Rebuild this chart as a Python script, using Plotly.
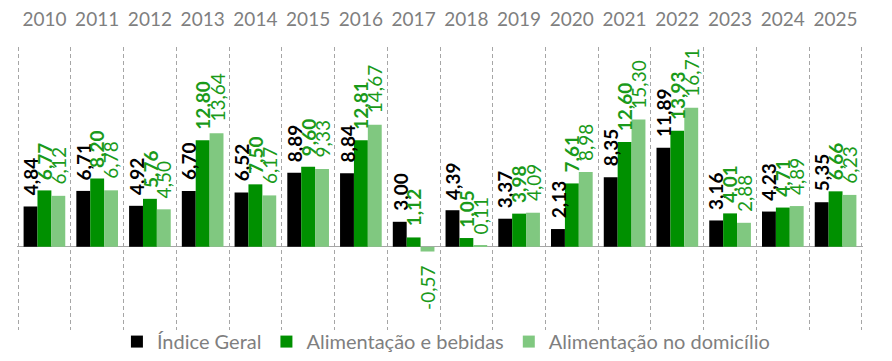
import plotly.graph_objects as go

years = ["2010", "2011", "2012", "2013", "2014", "2015", "2016", "2017",
         "2018", "2019", "2020", "2021", "2022", "2023", "2024", "2025"]
indice_geral = [4.84, 6.71, 4.92, 6.70, 6.52, 8.89, 8.84, 3.00,
                4.39, 3.37, 2.13, 8.35, 11.89, 3.16, 4.23, 5.35]
alim_bebidas = [6.77, 8.20, 5.76, 12.80, 7.50, 9.60, 12.81, 1.12,
                1.05, 3.98, 7.61, 12.60, 13.93, 4.01, 4.71, 6.66]
alim_domicilio = [6.12, 6.78, 4.50, 13.64, 6.17, 9.33, 14.67, -0.57,
                  0.11, 4.09, 8.98, 15.30, 16.71, 2.88, 4.89, 6.23]

series = [
    ("Índice Geral", indice_geral, "#000000", "#000000", True),
    ("Alimentação e bebidas", alim_bebidas, "#009000", "#1a9a1a", True),
    ("Alimentação no domicílio", alim_domicilio, "#80c880", "#1a9a1a", False),
]

FONT = "Lato"
LSIZE = 19
BARGAP = 0.21
bar_w = (1 - BARGAP) / 3


def text_len(s):
    # approximate rendered length (px) of a rotated label
    w = 0.0
    for ch in s:
        if ch.isdigit():
            w += 0.58 * LSIZE
        elif ch == ",":
            w += 0.23 * LSIZE
        elif ch == "-":
            w += 0.33 * LSIZE
    return w


fig = go.Figure()
annotations = []
for i, (name, vals, color, lcolor, bold) in enumerate(series):
    fig.add_trace(go.Bar(x=years, y=vals, name=name, marker_color=color,
                         marker_line_width=0))
    off = (i - 1) * bar_w
    for k, v in enumerate(vals):
        raw = f"{v:.2f}".replace(".", ",")
        txt = f"<b>{raw}</b>" if bold else raw
        half = text_len(raw) / 2
        annotations.append(dict(
            x=k + off, y=v, xref="x", yref="y", text=txt, showarrow=False,
            textangle=-90, xanchor="center", yanchor="middle",
            yshift=(11 + half) if v >= 0 else -(15 + half),
            font=dict(family=FONT, size=LSIZE, color=lcolor),
        ))

fig.update_layout(
    barmode="group", bargap=BARGAP, bargroupgap=0,
    width=876, height=353,
    margin=dict(l=9, r=21, t=39, b=31, autoexpand=False),
    paper_bgcolor="white", plot_bgcolor="white",
    annotations=annotations,
    legend=dict(orientation="h", x=0.507, xanchor="center", y=0.028, yanchor="top",
                bgcolor="rgba(0,0,0,0)",
                font=dict(family=FONT, size=20, color="#7f7f7f"),
                itemwidth=30, traceorder="normal"),
    xaxis=dict(side="top", type="category", tickson="boundaries",
               range=[-0.52, len(years) - 0.48], automargin=False, tickangle=0,
               showgrid=True, gridcolor="#a6a6a6", griddash="4px,3px", gridwidth=1,
               ticks="", ticklabelstandoff=16,
               tickfont=dict(family=FONT, size=19, color="#7f7f7f"),
               showline=False, zeroline=False),
    yaxis=dict(range=[-10, 24], showgrid=False, showticklabels=False,
               automargin=False,
               zeroline=True, zerolinecolor="#a6a6a6", zerolinewidth=1.3,
               showline=False),
    showlegend=True,
)
fig.write_html("out.html")
